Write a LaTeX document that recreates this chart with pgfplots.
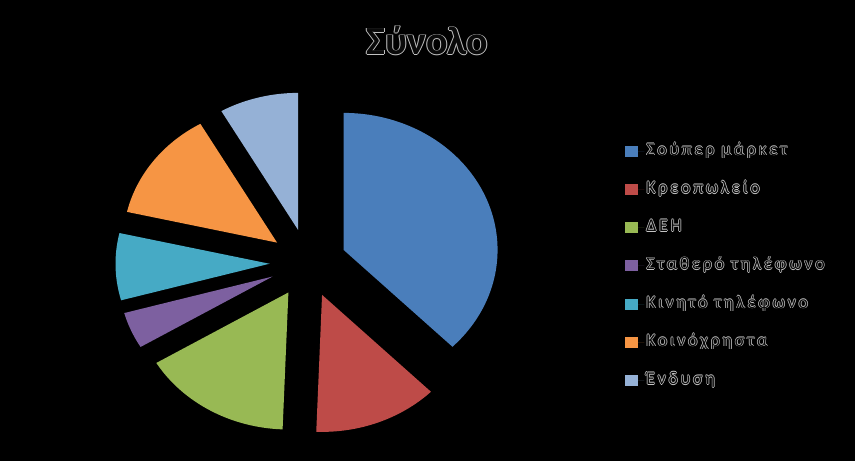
\documentclass[border=0pt]{standalone}
\usepackage{pgfplots}
\usepackage{pgfplotstable}
\pgfplotsset{compat=1.18}
\usepackage{fontspec}
\setmainfont{Carlito}
\newfontfamily\legfont[LetterSpace=15]{Carlito}
\definecolor{c0}{HTML}{4A7EBB}
\definecolor{c1}{HTML}{BE4B48}
\definecolor{c2}{HTML}{98B954}
\definecolor{c3}{HTML}{7D60A0}
\definecolor{c4}{HTML}{46AAC5}
\definecolor{c5}{HTML}{F69544}
\definecolor{c6}{HTML}{95B1D6}
\definecolor{oc}{RGB}{195,195,195}
\definecolor{tc}{RGB}{10,10,10}
\newcommand\outl[2][0.7pt]{\leavevmode\rlap{\color{oc}\hspace*{-#1}#2}\rlap{\color{oc}\hspace*{#1}#2}\rlap{\color{oc}\raisebox{#1}{#2}}\rlap{\color{oc}\raisebox{-#1}{#2}}{\color{tc}#2}}
\pgfplotstableread[col sep=comma]{
label,value
Σούπερ μάρκετ,37.5
Κρεοπωλείο,13.1
ΔΕΗ,15.8
Σταθερό τηλέφωνο,4.3
Κινητό τηλέφωνο,7.9
Κοινόχρηστα,13.1
Ένδυση,8.3
}\piedata
\begin{document}
\begin{tikzpicture}
\useasboundingbox (0,0) rectangle (855pt,461pt);
\fill[black] (0,0) rectangle (855pt,461pt);
\node[anchor=base, font=\fontsize{40}{48}\selectfont\bfseries] at (427.5pt,406pt) {\outl[0.9pt]{Σύνολο}};
\begin{axis}[
  x=154pt, y=137pt,
  xmin=-1.5, xmax=1.5, ymin=-1.3, ymax=1.3,
  at={(308pt,198pt)}, anchor=origin,
  hide axis, clip=false,
  legend style={at={(axis cs:2.04,0.905)}, anchor=north west, draw=none, fill=none,
    font=\legfont\fontsize{18}{21}\selectfont, row sep=18.2pt,
    nodes={text height=12pt, text depth=4pt, inner sep=2pt}},
  legend cell align=left,
  legend image code/.code={\fill[#1] (0pt,-5.5pt) rectangle (13pt,5.5pt); \path (0pt,0pt) -- (19pt,0pt);},
]
\xdef\cum{0}
\pgfplotsforeachungrouped \i in {0,...,6}{%
  \pgfplotstablegetelem{\i}{value}\of\piedata \let\v\pgfplotsretval
  \pgfplotstablegetelem{\i}{label}\of\piedata \let\lab\pgfplotsretval
  \pgfmathsetmacro\a{90-3.6*\cum}%
  \pgfmathsetmacro\b{90-3.6*(\cum+\v)}%
  \pgfmathsetmacro\m{(\a+\b)/2}%
  \pgfmathsetmacro\ex{0.25*cos(\m)}%
  \pgfmathsetmacro\ey{0.25*sin(\m)}%
  \edef\doplot{\noexpand\addplot[draw=none, fill=c\i, domain=\b:\a, samples=90]
    ({\ex+cos(x)},{\ey+sin(x)}) -- (axis cs:\ex,\ey) -- cycle;
    \noexpand\addlegendentry{\noexpand\outl{\lab}}}%
  \doplot
  \pgfmathparse{\cum+\v}\xdef\cum{\pgfmathresult}%
}
\end{axis}
\end{tikzpicture}
\end{document}
